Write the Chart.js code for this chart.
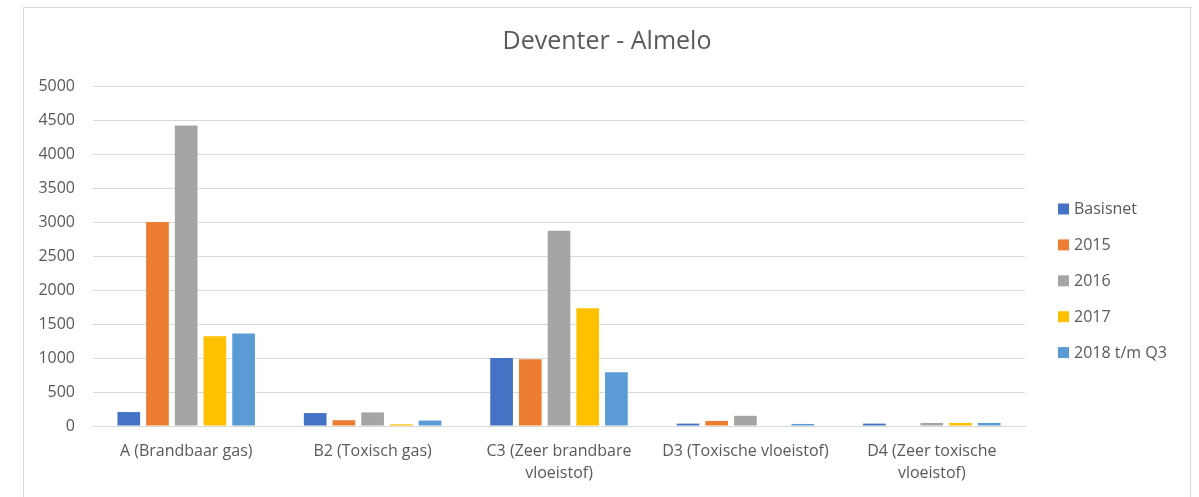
<!DOCTYPE html>
<html>
<head>
<meta charset="utf-8">
<script src="https://cdn.jsdelivr.net/npm/chart.js@4"></script>
<style>
  html, body { margin: 0; padding: 0; background: #ffffff; }
  #frame { position: absolute; left: 23px; top: 7px; width: 1168px; height: 600px; border: 1px solid #d9d9d9; box-sizing: border-box; }
  #wrap { position: absolute; left: 0; top: 0; width: 1199px; height: 497px; }
</style>
</head>
<body>
<div id="frame"></div>
<div id="wrap"><canvas id="c"></canvas></div>
<script>
const chartTitle = "Deventer - Almelo";
const categories = [
  "A (Brandbaar gas)",
  "B2 (Toxisch gas)",
  ["C3 (Zeer brandbare", "vloeistof)"],
  "D3 (Toxische vloeistof)",
  ["D4 (Zeer toxische", "vloeistof)"]
];
const seriesNames = ["Basisnet", "2015", "2016", "2017", "2018 t/m Q3"];
const basisnet = [205, 190, 1000, 35, 35];
const y2015 = [3000, 85, 980, 75, 0];
const y2016 = [4420, 200, 2870, 150, 45];
const y2017 = [1320, 25, 1730, 0, 45];
const y2018 = [1360, 80, 790, 30, 45];
const yTicksMax = 5000;
const yTicksStep = 500;
const colors = ["#4472C4", "#ED7D31", "#A5A5A5", "#FFC000", "#5B9BD5"];

const seriesValues = [basisnet, y2015, y2016, y2017, y2018];
const FONT = "'Open Sans', sans-serif";
const TEXT = "#595959";

const overlay = {
  id: "overlay",
  afterDraw(chart) {
    const ctx = chart.ctx;
    ctx.save();
    ctx.fillStyle = TEXT;
    ctx.font = "25px " + FONT;
    ctx.textAlign = "center";
    ctx.textBaseline = "middle";
    ctx.fillText(chartTitle, 607, 42);
    ctx.font = "16px " + FONT;
    ctx.textAlign = "left";
    chart.data.datasets.forEach((ds, i) => {
      const y = 209 + i * 35.9;
      ctx.fillStyle = ds.backgroundColor;
      ctx.fillRect(1058, y - 5.5, 11, 11);
      ctx.fillStyle = TEXT;
      ctx.fillText(ds.label, 1074, y + 0.5);
    });
    ctx.restore();
  }
};

new Chart(document.getElementById("c"), {
  type: "bar",
  data: {
    labels: categories,
    datasets: seriesNames.map((name, i) => ({
      label: name,
      data: seriesValues[i],
      backgroundColor: colors[i],
      borderWidth: 0,
      categoryPercentage: 0.77,
      barPercentage: 0.79
    }))
  },
  options: {
    responsive: true,
    maintainAspectRatio: false,
    animation: false,
    layout: { padding: { left: 0, right: 174, top: 86, bottom: 0 } },
    plugins: {
      legend: { display: false },
      title: { display: false },
      tooltip: { enabled: false }
    },
    scales: {
      x: {
        grid: { display: false, drawTicks: false },
        border: { display: true, color: "#d9d9d9", width: 1 },
        ticks: {
          color: TEXT,
          font: { family: FONT, size: 16, lineHeight: 1.35 },
          padding: 15,
          maxRotation: 0,
          autoSkip: false
        },
        afterFit(scale) { scale.height = 497 - 426; }
      },
      y: {
        min: 0,
        max: yTicksMax,
        grid: { color: "#d9d9d9", lineWidth: 1, drawTicks: false },
        border: { display: false },
        ticks: {
          stepSize: yTicksStep,
          color: TEXT,
          font: { family: FONT, size: 16 },
          padding: 18,
          callback: (v) => String(v)
        },
        afterFit(scale) { scale.width = 93; }
      }
    }
  },
  plugins: [overlay]
});
</script>
</body>
</html>
